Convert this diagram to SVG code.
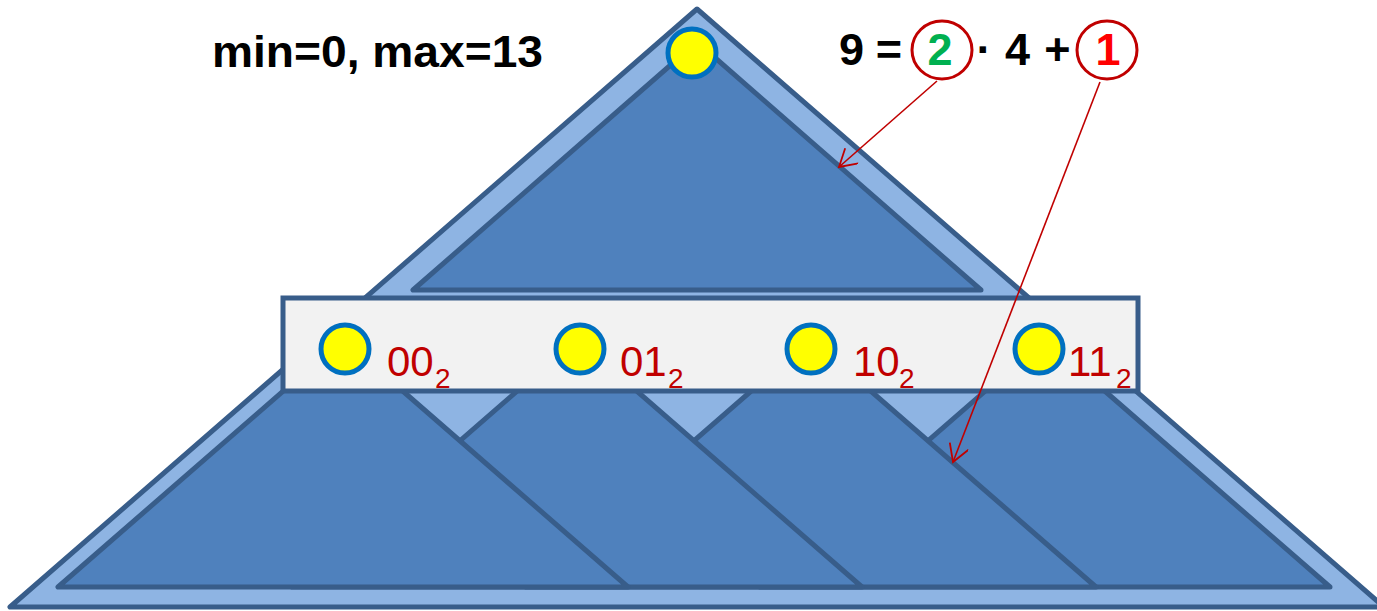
<svg xmlns="http://www.w3.org/2000/svg" width="1377" height="611" viewBox="0 0 1377 611">
<defs>
<style>
.outer{fill:#8EB4E3;stroke:#385D8A;stroke-width:5;stroke-linejoin:round}
.tri{fill:#4F81BD;stroke:#385D8A;stroke-width:5;stroke-linejoin:round}
.band{fill:#F2F2F2;stroke:#385D8A;stroke-width:5}
.dot{fill:#FFFF00;stroke:#0070C0;stroke-width:5}
.lbl{font-family:"Liberation Sans",Arial,sans-serif;fill:#C00000;font-size:42px}
.sub{font-size:28px}
.big{font-family:"Liberation Sans",Arial,sans-serif;font-weight:bold;font-size:45px;fill:#000}
.ring{fill:#FFFFFF;stroke:#C00000;stroke-width:3}
.arr{stroke:#C00000;stroke-width:1.6;fill:none;marker-end:url(#ah)}
</style>
<marker id="ah" markerWidth="24" markerHeight="24" refX="20" refY="10" orient="auto" markerUnits="userSpaceOnUse">
<path d="M3,0 L20,10 L3,20" fill="none" stroke="#C00000" stroke-width="1.8"/>
</marker>
</defs>
<g id="outer-tree"><polygon class="outer" points="697,9 10,607 1384,607"/></g>
<g id="top-subtree"><polygon class="tri" points="697,42 413,290 981,290"/></g>
<g id="subtree-11"><polygon class="tri" points="1045,339 760,587 1330,587"/></g>
<g id="subtree-10"><polygon class="tri" points="811,339 526,587 1096,587"/></g>
<g id="subtree-01"><polygon class="tri" points="577,339 292,587 862,587"/></g>
<g id="subtree-00"><polygon class="tri" points="343,339 58,587 628,587"/></g>
<g id="cluster"><rect class="band" x="283" y="298" width="855" height="93"/></g>
<g id="root-node"><circle class="dot" cx="692" cy="53" r="24"/></g>
<g id="node-00"><circle class="dot" cx="345" cy="349" r="24"/>
<text class="lbl" x="387" y="376">00<tspan class="sub" x="435" y="388">2</tspan></text></g>
<g id="node-01"><circle class="dot" cx="580" cy="349" r="24"/>
<text class="lbl" x="620" y="376">01<tspan class="sub" x="668" y="388">2</tspan></text></g>
<g id="node-10"><circle class="dot" cx="811" cy="349" r="24"/>
<text class="lbl" x="853" y="376">10<tspan class="sub" x="899" y="388">2</tspan></text></g>
<g id="node-11"><circle class="dot" cx="1039" cy="349" r="24"/>
<text class="lbl" x="1068" y="376">11<tspan class="sub" x="1116" y="388">2</tspan></text></g>
<g id="minmax"><text class="big" x="212" y="67" textLength="331" lengthAdjust="spacingAndGlyphs">min=0, max=13</text></g>
<g id="formula">
<ellipse class="ring" cx="942" cy="50" rx="30" ry="29"/>
<ellipse class="ring" cx="1107" cy="50" rx="30" ry="29"/>
<text class="big" x="851.5" y="65" text-anchor="middle">9</text>
<text class="big" x="889" y="65" text-anchor="middle">=</text>
<text class="big" x="940" y="65" text-anchor="middle" style="fill:#00B050">2</text>
<text class="big" x="984" y="65" text-anchor="middle">·</text>
<text class="big" x="1017.5" y="65" text-anchor="middle">4</text>
<text class="big" x="1057.5" y="65" text-anchor="middle">+</text>
<text class="big" x="1108" y="65" text-anchor="middle" style="fill:#FF0000">1</text>
</g>
<g id="connectors">
<line class="arr" x1="937" y1="81" x2="839" y2="167"/>
<line class="arr" x1="1100" y1="82" x2="953" y2="462"/>
</g>
</svg>
